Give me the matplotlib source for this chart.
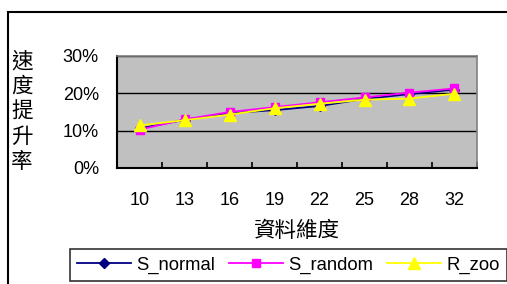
import matplotlib
matplotlib.use("Agg")
from matplotlib import pyplot as plt
from matplotlib.patches import Rectangle

plt.rcParams['font.family'] = ['Liberation Sans', 'Noto Sans CJK TC', 'DejaVu Sans']

# data
dims = ["10", "13", "16", "19", "22", "25", "28", "32"]
s_normal = [0.106, 0.129, 0.147, 0.155, 0.166, 0.185, 0.198, 0.210]
s_random = [0.103, 0.130, 0.150, 0.163, 0.176, 0.189, 0.202, 0.213]
r_zoo = [0.114, 0.128, 0.143, 0.160, 0.172, 0.183, 0.186, 0.199]
y_ticks = [0, 0.1, 0.2, 0.3]
y_labels = ["0%", "10%", "20%", "30%"]

W, H = 507, 284
fig = plt.figure(figsize=(W / 100, H / 100), dpi=100)
ax = fig.add_axes([117 / W, 1 - 168 / H, 360 / W, 112 / H])

# outer chart frame (runs off the right and bottom edges like the original)
fig.patches.append(Rectangle((8 / W, -0.1), 1.1, 1 - 12 / H + 0.1,
                             transform=fig.transFigure, fill=False,
                             edgecolor="black", linewidth=1.5))

ax.set_facecolor("#C0C0C0")
x = list(range(len(dims)))

ax.plot(x, s_normal, color="#000080", marker="D", markersize=5, linewidth=1.3,
        label="S_normal")
ax.plot(x, s_random, color="#FF00FF", marker="s", markersize=6, linewidth=1.3,
        label="S_random")
ax.plot(x, r_zoo, color="#FFFF00", marker="^", markersize=9, linewidth=1.3,
        label="R_zoo")

ax.set_xlim(-0.5, len(dims) - 0.5)
ax.set_ylim(0, 0.3)
ax.set_yticks(y_ticks)
ax.set_yticklabels(y_labels)
ax.set_xticks(x)
ax.set_xticklabels(dims)
ax.set_xticks([i - 0.5 for i in range(len(dims) + 1)], minor=True)
ax.tick_params(axis="x", which="major", length=0, pad=17, labelsize=13)
ax.tick_params(axis="x", which="minor", direction="in", length=4, width=1.2)
ax.tick_params(axis="y", length=0, pad=13, labelsize=13)
ax.grid(axis="y", color="black", linewidth=1)
ax.set_axisbelow(True)

for side in ["left", "bottom"]:
    ax.spines[side].set_linewidth(1.5)
    ax.spines[side].set_color("black")
for side in ["top", "right"]:
    ax.spines[side].set_linewidth(1.2)
    ax.spines[side].set_color("#808080")

ax.set_xlabel("資料維度", fontsize=15.5, labelpad=9)

# vertical stacked y title
fig.text(22 / W, 1 - 112 / H, "速\n度\n提\n升\n率", fontsize=15.5,
         linespacing=1.26, ha="center", va="center")

leg = fig.legend(loc="upper left", bbox_to_anchor=(70 / W, 1 - 249 / H), ncol=3,
                 frameon=True, fancybox=False, edgecolor="black", fontsize=13.3,
                 handlelength=2.9, handletextpad=0.3, columnspacing=0.75,
                 borderpad=0.4, borderaxespad=0)
leg.get_frame().set_linewidth(1.2)

fig.savefig("out.png", dpi=100)
